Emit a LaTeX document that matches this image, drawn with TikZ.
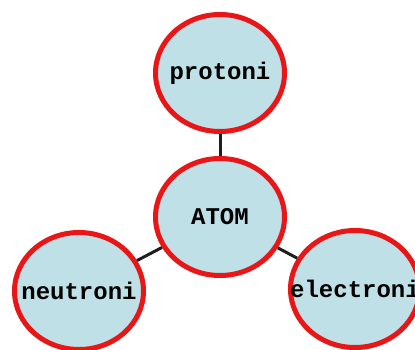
\documentclass[tikz,border=0pt]{standalone}
\usepackage{fontspec}
\setmonofont{Liberation Mono}
\usetikzlibrary{shapes.geometric}
\definecolor{cellfill}{RGB}{190,224,230}
\definecolor{cellred}{RGB}{232,22,22}
\definecolor{linkcol}{RGB}{30,30,30}
\tikzset{
  cell/.style = {ellipse, draw=cellred, line width=5pt, fill=cellfill,
                 minimum width=129pt, minimum height=117pt, inner sep=0pt,
                 label={[name=#1-text, font=\ttfamily\bfseries\fontsize{24}{24}\selectfont]center:#1}},
  link/.style = {draw=linkcol, line width=3pt},
}
\begin{document}
\begin{tikzpicture}[x=1pt,y=-1pt]
  \useasboundingbox (0,0) rectangle (415,349);
  \clip (0,0) rectangle (415,349);
  % cells
  \node[cell=ATOM]      (atom)      at (220,217) {};
  \node[cell=protoni]   (protoni)   at (220,73)  {};
  \node[cell=neutroni]  (neutroni)  at (79,291)  {};
  \node[cell=electroni] (electroni) at (355,289) {};
  % links
  \draw[link] (atom) -- (protoni);
  \draw[link] (atom) -- (neutroni);
  \draw[link] (atom) -- (electroni);
\end{tikzpicture}
\end{document}
